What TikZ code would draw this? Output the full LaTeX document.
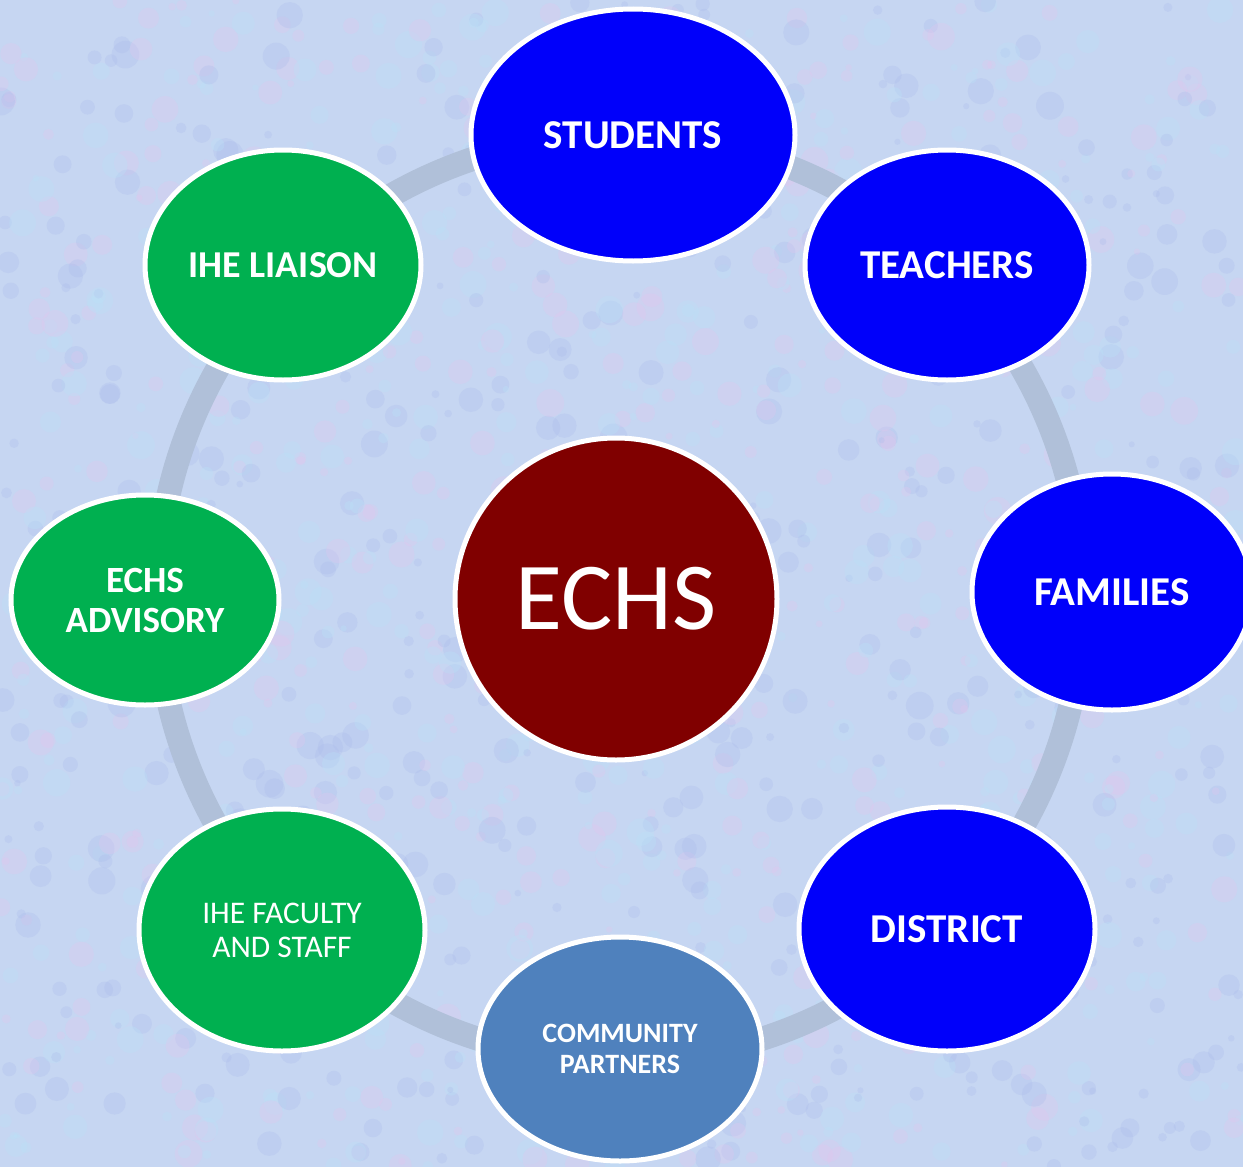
\documentclass[tikz,border=0pt]{standalone}
\usepackage{fontspec}
\setmainfont{Carlito}
\usetikzlibrary{shapes.geometric}
\definecolor{bgc}{RGB}{198,214,242}
\definecolor{ringc}{RGB}{176,192,217}
\definecolor{bluec}{RGB}{0,0,250}
\definecolor{greenc}{RGB}{0,176,80}
\definecolor{commc}{RGB}{79,129,189}
\definecolor{redc}{RGB}{128,0,0}
\definecolor{pinkc}{RGB}{226,198,238}
\definecolor{cyanc}{RGB}{186,226,248}
\definecolor{lavc}{RGB}{172,188,236}
\tikzset{
  bubble/.style={ellipse, draw=white, line width=5pt, text=white, align=center, inner sep=0pt},
  bigtxt/.style={font=\bfseries\fontsize{41}{44}\selectfont},
  midtxt/.style={font=\bfseries\fontsize{37}{40}\selectfont},
  liatxt/.style={font=\bfseries\fontsize{38}{40}\selectfont},
  regtxt/.style={font=\fontsize{31.5}{34}\selectfont},
  smalltxt/.style={font=\bfseries\fontsize{28}{31}\selectfont},
  hubtxt/.style={font=\fontsize{96}{100}\selectfont},
  ringline/.style={draw=ringc, line width=24pt},
  blob/.style={opacity=0.3}
}
\begin{document}
\begin{tikzpicture}[x=1pt,y=-1pt]
\useasboundingbox (0,0) rectangle (1243,1167);
\clip (0,0) rectangle (1243,1167);
\fill[bgc] (0,0) rectangle (1243,1167);
\pgfmathsetseed{7}
\foreach \i in {1,...,1600}{
  \pgfmathsetmacro\px{rnd*1243}
  \pgfmathsetmacro\py{rnd*1167}
  \pgfmathsetmacro\pr{3+rnd*11}
  \pgfmathtruncatemacro\pc{rnd*3}
  \ifcase\pc \def\cc{pinkc}\or\def\cc{cyanc}\else\def\cc{lavc}\fi
  \fill[\cc, blob] (\px,\py) circle[radius=\pr pt];
}
\coordinate (hub) at (620,598);
\draw[ringline] (hub) circle[radius=463pt];

\node[bubble, bigtxt, fill=bluec, minimum width=324pt, minimum height=252pt] (students) at (633,135) {STUDENTS};
\node[bubble, bigtxt, fill=bluec, minimum width=284pt, minimum height=230pt] (teachers) at (947,265) {TEACHERS};
\node[bubble, bigtxt, fill=bluec, minimum width=280pt, minimum height=236pt] (families) at (1112,592) {FAMILIES};
\node[bubble, bigtxt, fill=bluec, minimum width=296pt, minimum height=244pt] (district) at (947,929) {DISTRICT};
\node[bubble, smalltxt, fill=commc, minimum width=284pt, minimum height=224pt] (community) at (620,1049) {COMMUNITY\\PARTNERS};
\node[bubble, regtxt, fill=greenc, minimum width=286pt, minimum height=242pt] (faculty) at (282,930) {IHE FACULTY\\AND STAFF};
\node[bubble, midtxt, fill=greenc, minimum width=268pt, minimum height=210pt] (advisory) at (145,600) {ECHS\\ADVISORY};
\node[bubble, liatxt, fill=greenc, minimum width=276pt, minimum height=230pt] (liaison) at (283,265) {IHE LIAISON};
\node[bubble, hubtxt, fill=redc, minimum width=322pt, minimum height=322pt] (echs) at (616,599) {ECHS};
\end{tikzpicture}
\end{document}
